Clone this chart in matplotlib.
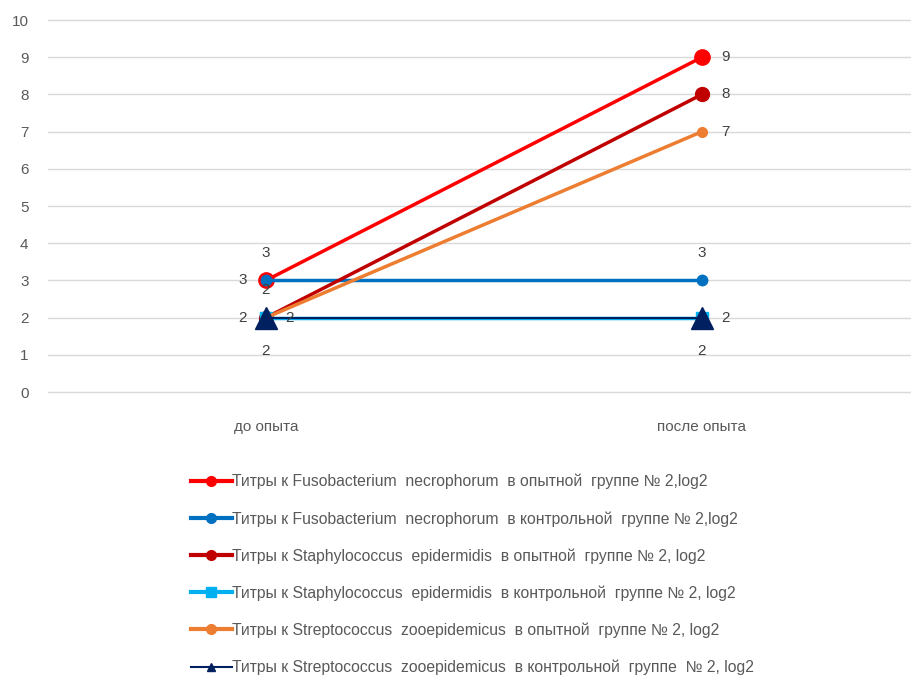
import matplotlib.pyplot as plt
from matplotlib.lines import Line2D

plt.rcParams['font.family'] = ['Liberation Sans', 'DejaVu Sans']

categories = ['до опыта', 'после опыта']
series_names = [
    'Титры к Fusobacterium  necrophorum  в опытной  группе № 2,log2',
    'Титры к Fusobacterium  necrophorum  в контрольной  группе № 2,log2',
    'Титры к Staphylococcus  epidermidis  в опытной  группе № 2, log2',
    'Титры к Staphylococcus  epidermidis  в контрольной  группе № 2, log2',
    'Титры к Streptococcus  zooepidemicus  в опытной  группе № 2, log2',
    'Титры к Streptococcus  zooepidemicus  в контрольной  группе  № 2, log2',
]
fuso_exp = [3, 9]
fuso_ctrl = [3, 3]
staph_exp = [2, 8]
staph_ctrl = [2, 2]
strep_exp = [2, 7]
strep_ctrl = [2, 2]

values = [fuso_exp, fuso_ctrl, staph_exp, staph_ctrl, strep_exp, strep_ctrl]
colors = ['#FF0000', '#0070C0', '#C00000', '#00B0F0', '#ED7D31', '#002060']
markers = ['o', 'o', 'o', 's', 'o', '^']
msizes = [11, 7.5, 10, 9, 7, 16]
lwidths = [2.5, 2.5, 2.5, 2.5, 2.5, 1.5]
# where each series puts its value labels, per category
label_pos = [
    ['left', 'right'],
    ['above', 'above'],
    ['above', 'right'],
    ['right', 'right'],
    ['left', 'right'],
    ['below', 'below'],
]
offsets = {'left': (-17, 0), 'right': (17, 0), 'above': (0, 20), 'below': (0, -24)}
grey = '#595959'

fig = plt.figure(figsize=(9.12, 6.75), dpi=100)
ax = fig.add_axes([48 / 912, 1 - 392 / 675, 872 / 912, 372 / 675])

x = list(range(len(categories)))
for vals, c, m, ms, lw, pos in zip(values, colors, markers, msizes, lwidths, label_pos):
    ax.plot(x, vals, color=c, marker=m, markersize=ms, linewidth=lw, zorder=3)
    for xi, v, p in zip(x, vals, pos):
        ax.annotate(str(v), (xi, v), xytext=offsets[p], textcoords='offset points',
                    ha='center', va='center', fontsize=11, color='#404040', zorder=5)

ax.set_xlim(-0.5, 1.5)
ax.set_ylim(0, 10)
ax.set_yticks(range(0, 11))
ax.yaxis.grid(True, color='#D9D9D9', linewidth=1)
for gl in ax.get_ygridlines():
    gl.set_clip_on(False)
ax.set_axisbelow(True)
for s in ax.spines.values():
    s.set_visible(False)
ax.tick_params(axis='y', length=0, labelsize=11, labelcolor=grey, pad=14)
ax.set_xticks(x)
ax.set_xticklabels(categories)
ax.tick_params(axis='x', length=0, labelsize=11, labelcolor=grey, pad=20)

handles = [Line2D([], [], color=c, marker=m, markersize=7 if m != '^' else 6,
                  linewidth=3 if m != '^' else 1.5)
           for c, m in zip(colors, markers)]
fig.legend(handles, series_names, loc='upper left', bbox_to_anchor=(183 / 912, 1 - 466 / 675),
           frameon=False, fontsize=11.3, labelcolor=grey, handlelength=2.6,
           handletextpad=0.05, labelspacing=1.38, borderpad=0)

fig.savefig('out.png', dpi=100)
